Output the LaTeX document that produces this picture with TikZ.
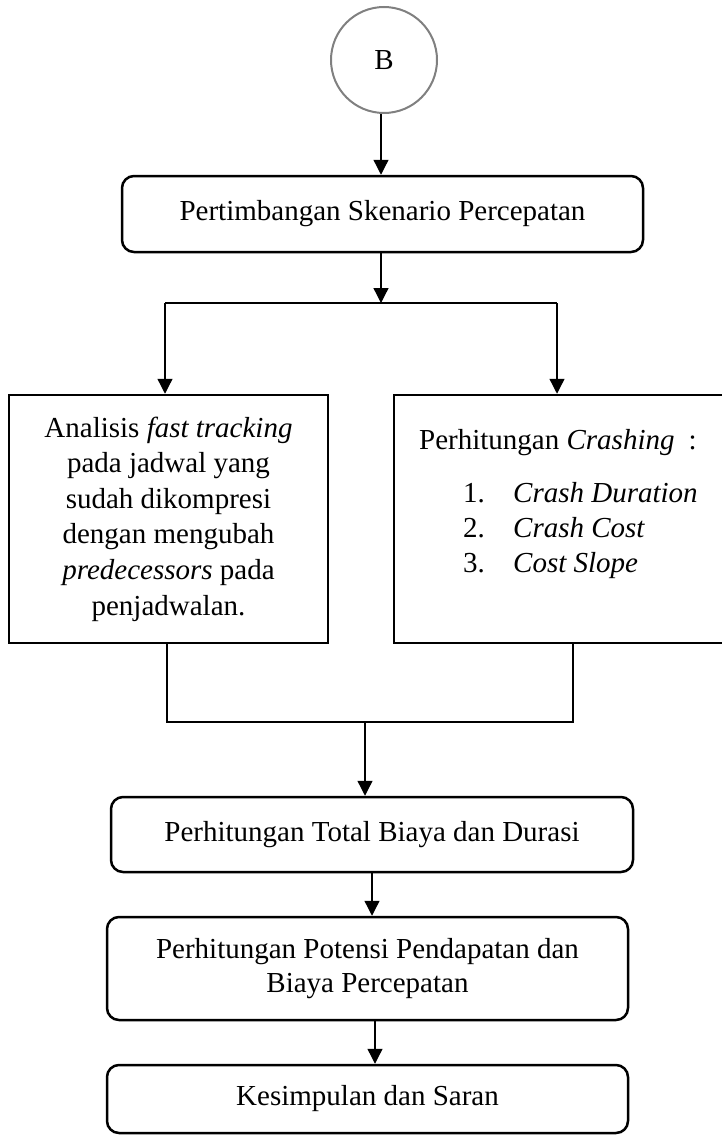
\documentclass[tikz,border=0pt]{standalone}
\usepackage{fontspec}
\setmainfont{Liberation Serif}
\usetikzlibrary{arrows.meta}
\begin{document}
\begin{tikzpicture}[x=1pt,y=-1pt,
  every node/.style={font=\fontsize{29}{35.6}\selectfont, inner sep=0pt},
  rbox/.style={draw, line width=2.5pt, rounded corners=12pt},
  sbox/.style={draw, line width=2.5pt},
  conn/.style={line width=1.3pt},
  arr/.style={conn, -{Triangle[length=15pt,width=15pt]}}]
\useasboundingbox (0,0) rectangle (722,1135);

% start connector
\node[draw=gray, circle, line width=2pt, minimum size=106pt] (B) at (384,60) {B};

% boxes
\node[rbox, minimum width=521pt, minimum height=76pt] (s1) at (382.5,214) {Pertimbangan Skenario Percepatan};

\node[sbox, minimum width=319pt, minimum height=248pt, align=center] (L) at (168.5,519)
  {Analisis \textit{fast tracking}\\ pada jadwal yang\\ sudah dikompresi\\ dengan mengubah\\ \textit{predecessors} pada\\ penjadwalan.};

\node[sbox, minimum width=340pt, minimum height=248pt] (R) at (564,519) {};
\node[anchor=base west] (Rh) at (419,449) {Perhitungan \textit{Crashing}\hspace{14pt}:};
\node[anchor=base west] (R1) at (463,502) {\makebox[50pt][l]{1.}\textit{Crash Duration}};
\node[anchor=base west] (R2) at (463,537) {\makebox[50pt][l]{2.}\textit{Crash Cost}};
\node[anchor=base west] (R3) at (463,572) {\makebox[50pt][l]{3.}\textit{Cost Slope}};

\node[rbox, minimum width=522pt, minimum height=75pt] (t) at (372,834.5) {Perhitungan Total Biaya dan Durasi};
\node[rbox, minimum width=521pt, minimum height=103pt, align=center, font=\fontsize{29}{34}\selectfont] (p) at (367.5,968.5)
  {Perhitungan Potensi Pendapatan dan\\ Biaya Percepatan};
\node[rbox, minimum width=521pt, minimum height=68pt] (k) at (367.5,1099) {Kesimpulan dan Saran};

% connectors
\coordinate (a0) at (381,0);
\draw[arr] (B.south -| a0) -- (s1.north -| a0);

\coordinate (f0) at (381,303);
\coordinate (fl) at (165,303);
\coordinate (fr) at (557,303);
\draw[arr] (s1.south -| f0) -- (f0);
\draw[conn] (fl) -- (fr);
\draw[arr] (fl) -- (fl |- L.north);
\draw[arr] (fr) -- (fr |- R.north);

\coordinate (jl) at (167,722);
\coordinate (jr) at (573,722);
\coordinate (j0) at (365,722);
\draw[conn] (jl |- L.south) -- (jl) -- (jr) -- (jr |- R.south);
\draw[arr] (j0) -- (j0 |- t.north);

\draw[arr] (t.south) -- (t.south |- p.north);
\coordinate (a3) at (375,0);
\draw[arr] (p.south -| a3) -- (k.north -| a3);
\end{tikzpicture}
\end{document}
